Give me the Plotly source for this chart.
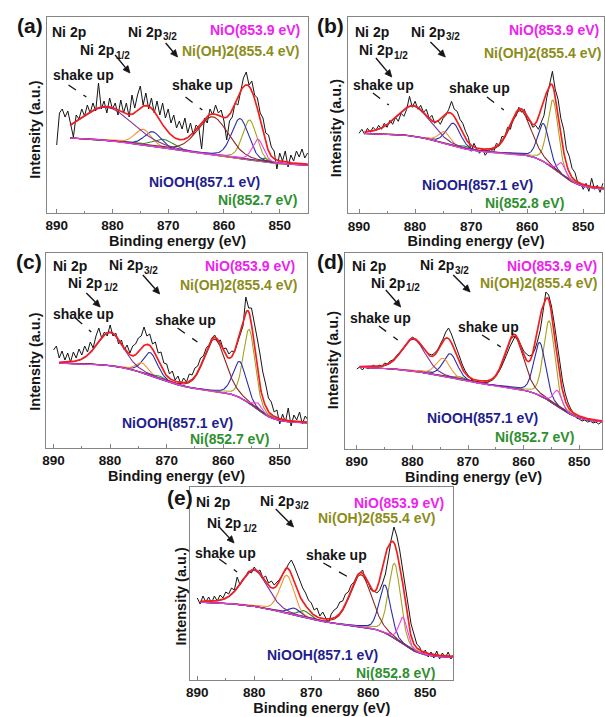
import numpy as np
import plotly.graph_objects as go

W, H = 605, 717
FONT = "Liberation Sans"

# ---------------- measured spectra (intensity, arbitrary units; 0.5 eV steps from 890 eV) -------------
E_START = 890.0
E_STEP = 0.5

DATA_A = [68, 100, 104, 96, 102, 90, 76, 98, 94, 104, 97, 108, 100, 110, 102, 130, 104, 112, 100, 115,
          104, 110, 98, 113, 100, 110, 96, 118, 105, 118, 127, 108, 120, 104, 115, 100, 112, 98, 110, 95,
          104, 90, 98, 85, 92, 84, 95, 80, 90, 78, 88, 85, 64, 95, 90, 104, 98, 108, 100, 103,
          92, 73, 92, 96, 110, 108, 120, 135, 141, 128, 132, 118, 115, 100, 95, 80, 78, 66, 62, 44,
          60, 52, 62, 46, 58, 52, 62, 56, 64, 55, 60]
DATA_B = [80, 84, 79, 85, 81, 86, 83, 88, 84, 90, 86, 93, 89, 96, 92, 100, 97, 104, 117, 106,
          112, 104, 108, 101, 104, 95, 98, 90, 93, 89, 95, 98, 104, 112, 104, 102, 94, 90, 82, 76,
          62, 70, 64, 60, 65, 58, 62, 64, 61, 70, 68, 77, 76, 86, 84, 95, 97, 106, 101, 104,
          94, 92, 86, 88, 84, 92, 98, 116, 128, 142, 124, 114, 95, 84, 64, 57, 45, 41, 31, 30,
          24, 30, 22, 35, 24, 28, 21, 30]
DATA_C = [98, 102, 90, 97, 88, 95, 86, 96, 90, 99, 93, 102, 96, 106, 100, 112, 120, 110, 116, 112,
          123, 112, 115, 104, 108, 98, 103, 95, 102, 104, 110, 112, 121, 112, 114, 104, 106, 95, 96, 85,
          84, 74, 77, 68, 72, 64, 70, 66, 74, 73, 80, 82, 90, 92, 100, 103, 110, 113, 106, 108,
          99, 100, 94, 97, 96, 104, 112, 122, 151, 140, 140, 126, 110, 94, 76, 64, 50, 46, 36, 38,
          24, 34, 26, 40, 22, 33, 28, 36, 24, 32, 28]
DATA_D = [80, 82, 79, 83, 80, 82, 84, 81, 84, 83, 86, 85, 88, 89, 92, 95, 98, 101, 105, 109,
          112, 110, 108, 103, 100, 97, 95, 94, 96, 99, 104, 110, 117, 121, 115, 108, 100, 92, 84, 78,
          74, 70, 68, 66, 67, 65, 67, 66, 69, 71, 74, 77, 82, 88, 95, 102, 108, 113, 110, 104,
          98, 95, 93, 94, 99, 108, 119, 138, 157, 154, 143, 126, 106, 86, 68, 55, 46, 40, 35, 31,
          30, 28, 29, 27, 28, 26, 27, 25, 27]
DATA_E = [82, 76, 84, 78, 83, 77, 84, 79, 85, 82, 88, 86, 92, 90, 103, 95, 101, 104, 109, 107,
          113, 108, 110, 102, 104, 97, 99, 95, 98, 101, 106, 110, 116, 120, 114, 106, 99, 92, 87, 80,
          77, 70, 72, 64, 68, 62, 57, 66, 70, 72, 78, 79, 86, 88, 95, 98, 104, 107, 110, 100,
          97, 90, 89, 87, 90, 97, 106, 122, 140, 153, 144, 130, 112, 92, 74, 56, 46, 36, 33, 26,
          30, 23, 28, 22, 29, 21, 27, 22, 28, 21, 26]

# ---------------- fitted components: sat(2p1/2), 2p1/2 a, 2p1/2 b, 2p1/2 c, sat(2p3/2), NiOOH, Ni(OH)2, NiO, Ni
COMP_COLORS = ["#7B2D9B", "#F5922F", "#2A2EA6", "#2E8B2E", "#8B2222", "#2A2EA6", "#A3A322", "#F23CF2", "#2E8B2E"]
DRAW_ORDER = [8, 3, 2, 6, 1, 5, 4, 0, 7]

CENTERS_A = [881.0, 874.5, 872.8, 870.8, 862.0, 857.1, 855.4, 853.9, 852.7]
HEIGHTS_A = [33, 16, 15, 9, 38, 40, 40, 22, 4]
FWHM_A = [11.0, 3.5, 3.5, 4.5, 6.5, 3.6, 3.0, 2.4, 1.5]
FIT_A = [887.6, 845.0]
BG_A = [47, 856.0, 12, 4.0, 874.0, 17, 5.0]      # base, step1 (centre, size, width), step2 (centre, size, width)

CENTERS_B = [880.3, 874.8, 873.2, 871.5, 861.2, 857.1, 855.4, 853.9, 852.8]
HEIGHTS_B = [30, 12, 23, 3, 44, 38, 68, 12, 2]
FWHM_B = [7.0, 2.5, 3.0, 2.5, 4.5, 2.4, 2.3, 1.6, 1.2]
FIT_B = [889.0, 846.3]
BG_B = [24, 854.7, 36, 2.0, 875.0, 20, 3.0]

CENTERS_C = [880.0, 874.4, 872.9, 871.3, 861.5, 857.1, 855.4, 853.9, 852.7]
HEIGHTS_C = [33, 10, 23, 3, 52, 36, 74, 7, 2]
FWHM_C = [5.5, 2.5, 3.0, 2.5, 4.5, 2.8, 2.5, 1.7, 1.2]
FIT_C = [889.0, 845.1]
BG_C = [25, 854.5, 31, 1.8, 872.0, 29, 3.5]

CENTERS_D = [879.8, 874.5, 873.2, 871.5, 861.7, 857.1, 855.4, 853.9, 852.7]
HEIGHTS_D = [32, 18, 24, 3, 52, 53, 80, 16, 2]
FWHM_D = [5.0, 3.0, 3.0, 2.5, 4.0, 2.5, 2.4, 1.8, 1.2]
FIT_D = [889.5, 845.9]
BG_D = [26.5, 854.2, 33, 2.2, 873.0, 23, 5.0]

CENTERS_E = [880.0, 874.3, 873.0, 871.3, 861.3, 857.1, 855.4, 853.9, 852.8]
HEIGHTS_E = [36, 38, 7, 7, 52, 48, 75, 27, 2]
FWHM_E = [5.5, 3.0, 2.5, 2.5, 4.5, 2.4, 2.5, 1.8, 1.2]
FIT_E = [889.5, 845.1]
BG_E = [22.5, 854.5, 30, 1.9, 873.5, 26, 4.5]

NI_LABELS = ["Ni(852.7 eV)", "Ni(852.8 eV)", "Ni(852.7 eV)", "Ni(852.7 eV)", "Ni(852.8 eV)"]
TICKS = [890, 880, 870, 860, 850]
MINOR_TICKS = [885, 875, 865, 855, 845]

# ---------------- layout of panels (pixels) ----------------
PANELS = [
    dict(key="a", data=DATA_A, c=CENTERS_A, h=HEIGHTS_A, w=FWHM_A, fit=FIT_A, bg=BG_A,
         box=(43, 17, 307, 213), xr=(891.8, 844.84)),
    dict(key="b", data=DATA_B, c=CENTERS_B, h=HEIGHTS_B, w=FWHM_B, fit=FIT_B, bg=BG_B,
         box=(347, 17, 605, 213.3), xr=(891.95, 846.3)),
    dict(key="c", data=DATA_C, c=CENTERS_C, h=HEIGHTS_C, w=FWHM_C, fit=FIT_C, bg=BG_C,
         box=(42, 253, 306, 448), xr=(891.4, 845.1)),
    dict(key="d", data=DATA_D, c=CENTERS_D, h=HEIGHTS_D, w=FWHM_D, fit=FIT_D, bg=BG_D,
         box=(344, 253, 603, 449), xr=(892.1, 845.9)),
    dict(key="e", data=DATA_E, c=CENTERS_E, h=HEIGHTS_E, w=FWHM_E, fit=FIT_E, bg=BG_E,
         box=(188, 487, 453, 680), xr=(891.2, 845.1)),
]

LABELS = {
    "a": dict(letter=(26, 25), ni2p=(46, 32), p32=(123, 32), p12=(75, 50), arr12=((112, 55), (127, 73)),
              arr32=((163, 43), (175, 57)), nio=(300, 30), nioh2=(299, 51), shk1=(47, 75),
              dash1=((65, 85), (83, 97)), shk2=(167, 85), dash2=((183, 97), (200, 110)),
              niooh=(144, 182), ni=(297, 200), yt=(31, 130)),
    "b": dict(letter=(329, 25), ni2p=(352, 32), p32=(408, 32), p12=(356, 50), arr12=((375, 58), (391, 77)),
              arr32=((430, 42), (445, 57)), nio=(602, 30), nioh2=(604, 53), shk1=(350, 85),
              dash1=((372, 93), (388, 105)), shk2=(447, 88), dash2=((487, 97), (504, 110)),
              niooh=(419, 185), ni=(567, 203), yt=(335, 128)),
    "c": dict(letter=(25, 262), ni2p=(47, 266), p32=(104, 265), p12=(63, 283), arr12=((83, 293), (97, 307)),
              arr32=((140, 275), (157, 294)), nio=(295, 266), nioh2=(297, 285), shk1=(47, 314),
              dash1=((72, 318), (88, 332)), shk2=(150, 320), dash2=((175, 328), (195, 342)),
              niooh=(117, 423), ni=(269, 439), yt=(31, 362)),
    "d": dict(letter=(329, 262), ni2p=(349, 266), p32=(417, 265), p12=(368, 283), arr12=((385, 290), (400, 307)),
              arr32=((453, 275), (470, 292)), nio=(600, 266), nioh2=(600, 283), shk1=(347, 318),
              dash1=((378, 326), (397, 340)), shk2=(456, 327), dash2=((482, 335), (501, 347)),
              niooh=(425, 418), ni=(577, 437), yt=(332, 360)),
    "e": dict(letter=(177, 497), ni2p=(192, 502), p32=(256, 501), p12=(203, 523), arr12=((217, 527), (232, 543)),
              arr32=((274, 509), (292, 527)), nio=(446, 503), nioh2=(437, 518), shk1=(191, 553),
              dash1=((217, 559), (235, 572)), shk2=(302, 555), dash2=((322, 563), (347, 577)),
              niooh=(263, 655), ni=(437, 673), yt=(178, 597)),
}
SUB_DX, SUB_DY = 35.5, 5      # offset of the "3/2", "1/2" subscripts from the start of "Ni 2p"


def gl(x, c, h, w, m=0.25):
    d = (x - c) / w
    return h * ((1 - m) * np.exp(-4 * np.log(2) * d ** 2) + m / (1 + 4 * d ** 2))


def background(x, p):
    base, c1, d1, s1, c2, d2, s2 = p
    return base + d1 / (1 + np.exp(-(x - c1) / s1)) + d2 / (1 + np.exp(-(x - c2) / s2))


def fit_curves(centers, heights, widths, fit_range, bg_par):
    x = np.linspace(fit_range[0], fit_range[1], 700)
    peaks = [gl(x, c, h, w) for c, h, w in zip(centers, heights, widths)]
    bg = background(x, bg_par)
    return x, bg, peaks, bg + np.sum(peaks, axis=0)


def px(x):
    return x / W


def py(y):
    return 1 - y / H


fig = go.Figure()
annotations = []
shapes = []

BLACK = "#151515"
FRAME = "#858585"


def text_ann(text, pos, color=BLACK, size=14, xanchor="left", yanchor="middle", angle=0):
    return dict(text=text, x=px(pos[0]), y=py(pos[1]), xref="paper", yref="paper", showarrow=False,
                xanchor=xanchor, yanchor=yanchor, textangle=angle,
                font=dict(family=FONT, size=size, color=color, weight="bold"))


def arrow_shapes(tail, head, head_len=7.0, half_w=3.2):
    (tx, ty), (hx, hy) = tail, head
    dx, dy = hx - tx, hy - ty
    n = (dx * dx + dy * dy) ** 0.5
    ux, uy = dx / n, dy / n
    bx, by = hx - ux * head_len, hy - uy * head_len
    pxl, pyl = bx - uy * half_w, by + ux * half_w
    pxr, pyr = bx + uy * half_w, by - ux * half_w
    line = dict(type="line", xref="paper", yref="paper", x0=px(tx), y0=py(ty), x1=px(bx), y1=py(by),
                line=dict(color=BLACK, width=1.4))
    tri = dict(type="path", xref="paper", yref="paper",
               path=f"M {px(hx)},{py(hy)} L {px(pxl)},{py(pyl)} L {px(pxr)},{py(pyr)} Z",
               fillcolor=BLACK, line=dict(color=BLACK, width=0.8))
    return [line, tri]


def dash_shape(p0, p1):
    return dict(type="line", xref="paper", yref="paper", x0=px(p0[0]), y0=py(p0[1]),
                x1=px(p1[0]), y1=py(p1[1]), line=dict(color=BLACK, width=1.3, dash="dash"))


def level_label(sub, pos):
    main = text_ann("Ni 2p", pos)
    s = text_ann(sub, (pos[0] + SUB_DX, pos[1] + SUB_DY), size=10)
    return [main, s]


for i, p in enumerate(PANELS):
    n = i + 1
    xa = "x" if n == 1 else f"x{n}"
    ya = "y" if n == 1 else f"y{n}"
    x0, y0, x1, y1 = p["box"]
    height_px = y1 - y0

    energies = E_START - E_STEP * np.arange(len(p["data"]))
    fig.add_trace(go.Scatter(x=energies, y=p["data"], mode="lines", xaxis=xa, yaxis=ya,
                             line=dict(color=BLACK, width=1), showlegend=False, hoverinfo="skip"))

    xf, bg, peaks, env = fit_curves(p["c"], p["h"], p["w"], p["fit"], p["bg"])
    for k in DRAW_ORDER:
        fig.add_trace(go.Scatter(x=xf, y=bg + peaks[k], mode="lines", xaxis=xa, yaxis=ya,
                                 line=dict(color=COMP_COLORS[k], width=1.1), showlegend=False,
                                 hoverinfo="skip"))
    fig.add_trace(go.Scatter(x=xf, y=env, mode="lines", xaxis=xa, yaxis=ya,
                             line=dict(color="#F21E1E", width=1.7), showlegend=False, hoverinfo="skip"))

    axis_common = dict(showline=True, mirror=True, linecolor=FRAME, linewidth=1,
                       showgrid=False, zeroline=False, fixedrange=True)
    fig.update_layout(**{
        ("xaxis" if n == 1 else f"xaxis{n}"): dict(
            domain=[px(x0), px(x1)], range=list(p["xr"]), anchor=ya,
            tickmode="array", tickvals=TICKS, ticktext=[str(t) for t in TICKS],
            ticks="inside", ticklen=4, tickwidth=1, tickcolor=FRAME,
            minor=dict(tickmode="array", tickvals=MINOR_TICKS, ticks="inside",
                       ticklen=2.5, tickcolor=FRAME, tickwidth=1),
            tickfont=dict(family=FONT, size=13.5, color=BLACK, weight="bold"),
            ticklabelstandoff=0,
            title=dict(text="Binding energy (eV)", standoff=1,
                       font=dict(family=FONT, size=14.5, color=BLACK, weight="bold")),
            **axis_common),
        ("yaxis" if n == 1 else f"yaxis{n}"): dict(
            domain=[py(y1), py(y0)], range=[0, height_px], anchor=xa,
            showticklabels=False, ticks="", **axis_common),
    })

    L = LABELS[p["key"]]
    annotations += [
        text_ann(f"({p['key']})", L["letter"], size=21, xanchor="center"),
        text_ann("Ni 2p", L["ni2p"]),
        *level_label("3/2", L["p32"]),
        *level_label("1/2", L["p12"]),
        text_ann("NiO(853.9 eV)", L["nio"], color="#EE22EE", xanchor="right"),
        text_ann("Ni(OH)2(855.4 eV)", L["nioh2"], color="#8C8C1A", xanchor="right"),
        text_ann("shake up", L["shk1"]),
        text_ann("shake up", L["shk2"]),
        text_ann("NiOOH(857.1 eV)", L["niooh"], color="#1E1E8C"),
        text_ann(NI_LABELS[i], L["ni"], color="#2F8F2F", xanchor="right"),
        text_ann("Intensity (a.u.)", L["yt"], size=14.5, xanchor="center", angle=-90),
    ]
    shapes += arrow_shapes(*L["arr12"]) + arrow_shapes(*L["arr32"])
    shapes += [dash_shape(*L["dash1"]), dash_shape(*L["dash2"])]

fig.update_layout(width=W, height=H, autosize=False, margin=dict(l=0, r=0, t=0, b=0),
                  paper_bgcolor="white", plot_bgcolor="white",
                  annotations=annotations, shapes=shapes, showlegend=False)

fig.write_html("out.html")
